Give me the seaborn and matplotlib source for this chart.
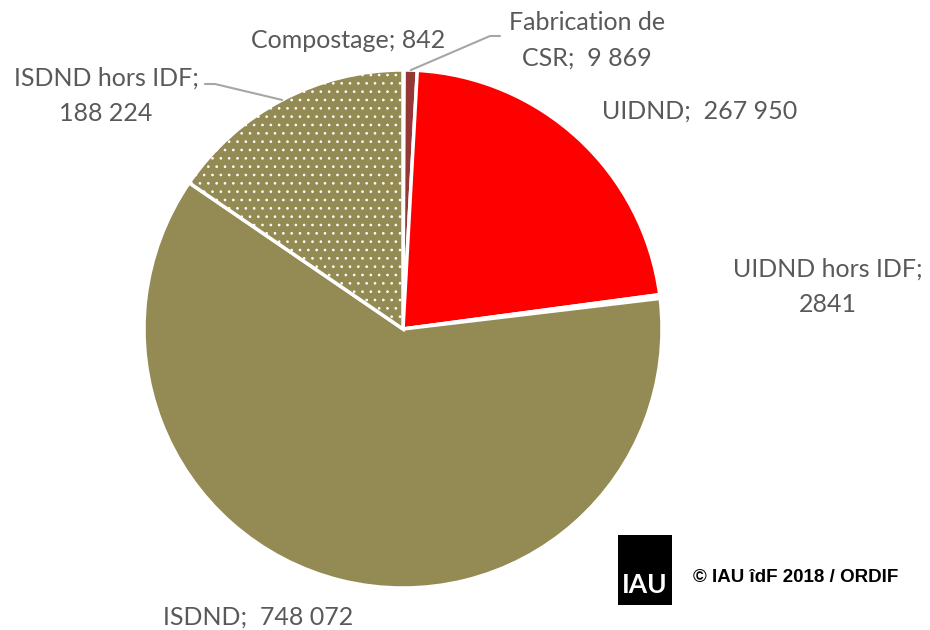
import numpy as np
import matplotlib
matplotlib.use("Agg")
import matplotlib.pyplot as plt
import seaborn as sns

# data (tonnes)
categories = ["Compostage", "Fabrication de\nCSR", "UIDND", "UIDND hors IDF", "ISDND", "ISDND hors IDF"]
values = [842, 9869, 267950, 2841, 748072, 188224]
value_labels = ["842", "  9 869", "  267 950", "2841", "  748 072", "188 224"]
colors = ["#9BBB59", "#953735", "#FF0000", "#FFFFFF", "#948A54", "#948A54"]

sns.set_theme(style="white")
plt.rcParams['font.family'] = ['Lato', 'DejaVu Sans']
plt.rcParams['hatch.color'] = 'white'
plt.rcParams['hatch.linewidth'] = 0.7

W, H = 930, 630
cx, cy, R = 403, 329, 259   # pie centre / radius in pixels

fig = plt.figure(figsize=(W / 100, H / 100), dpi=100)
ax = fig.add_axes([0, 0, 1, 1])

wedges, _ = ax.pie(values, colors=colors, startangle=90, counterclock=False,
                   wedgeprops=dict(edgecolor='white', linewidth=2.5))
wedges[5].set_hatch('..')

ax.set_aspect('auto')
ax.set_xlim(-cx / R, (W - cx) / R)
ax.set_ylim(-(H - cy) / R, cy / R)
ax.axis('off')


def px(x, y):
    return (x - cx) / R, (cy - y) / R


txt_color = '#595959'
fs = 18
label_pos = [(348, 40), (587, 40), (700, 111), (828, 287), (258, 617), (106, 96)]
sep = ["; ", ";", ";", ";\n", ";", ";\n"]
for i, (cat, val) in enumerate(zip(categories, value_labels)):
    x, y = px(*label_pos[i])
    ax.text(x, y, cat + sep[i] + val, ha='center', va='center', fontsize=fs,
            color=txt_color, linespacing=1.65)

# leader lines from wedge edges to labels
for i, (hx, hy), (lx, ly) in [(1, (490, 36), (500, 36)), (5, (215, 84), (205, 84))]:
    w = wedges[i]
    ang = np.deg2rad((w.theta1 + w.theta2) / 2)
    ex, ey = np.cos(ang), np.sin(ang)
    ax.plot([ex, px(hx, hy)[0], px(lx, ly)[0]], [ey, px(hx, hy)[1], px(lx, ly)[1]],
            color='#A6A6A6', lw=1.5)

# IAU logo and credit
logo = fig.add_axes([618 / W, 1 - 605 / H, 54 / W, 70 / H])
logo.set_facecolor('black')
logo.set_xticks([])
logo.set_yticks([])
for s in logo.spines.values():
    s.set_visible(False)
logo.text(0.5, 0.28, "IAU", color='white', ha='center', va='center', fontsize=19,
          fontweight='bold', family=['Lato', 'DejaVu Sans'],
          transform=logo.transAxes)
fig.text(693 / W, 1 - 577 / H, "© IAU îdF 2018 / ORDIF", ha='left', va='center',
         fontsize=13.5, fontweight='bold', color='black',
         family=['Liberation Sans', 'DejaVu Sans'])

fig.savefig("out.png", dpi=100, facecolor='white')
